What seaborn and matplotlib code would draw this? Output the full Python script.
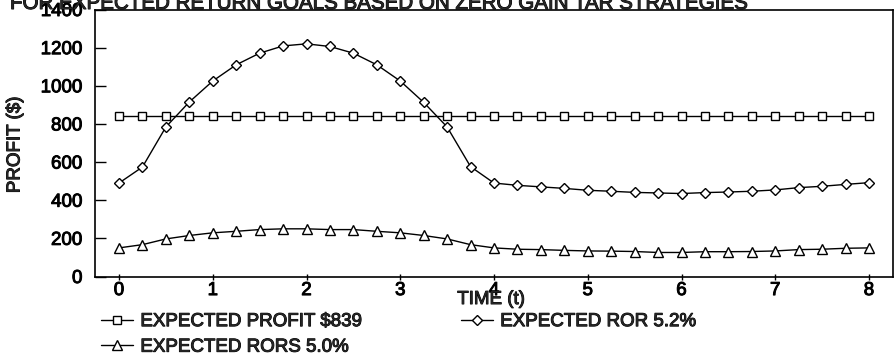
import numpy as np
import pandas as pd
import matplotlib
matplotlib.use("Agg")
import matplotlib.pyplot as plt
import matplotlib.patheffects as pe
import seaborn as sns

# Time grid (quarter-period steps)
time_t = [0, 0.25, 0.5, 0.75, 1, 1.25, 1.5, 1.75, 2, 2.25, 2.5, 2.75, 3, 3.25, 3.5, 3.75,
          4, 4.25, 4.5, 4.75, 5, 5.25, 5.5, 5.75, 6, 6.25, 6.5, 6.75, 7, 7.25, 7.5, 7.75, 8]

# Expected profit strategy: flat at $839
profit_839 = [839] * 33

# Expected ROR 5.2% strategy
ror_52 = [490, 574, 784, 915, 1025, 1110, 1171, 1209, 1220, 1206, 1171, 1110, 1025, 913, 784, 576,
          490, 478, 470, 462, 452, 447, 441, 438, 435, 440, 443, 447, 454, 466, 473, 483, 492]

# Expected RORS 5.0% strategy
rors_50 = [150, 167, 197, 215, 229, 237, 246, 250, 250, 246, 246, 237, 229, 215, 197, 167,
           150, 143, 141, 137, 134, 133, 131, 126, 126, 130, 130, 131, 134, 141, 143, 148, 150]

labels = ["EXPECTED PROFIT $839", "EXPECTED ROR 5.2%", "EXPECTED RORS 5.0%"]
y_ticks = [0, 200, 400, 600, 800, 1000, 1200, 1400]
x_ticks = [0, 1, 2, 3, 4, 5, 6, 7, 8]

sns.set_style("ticks")
plt.rcParams["font.family"] = ["Liberation Sans", "DejaVu Sans"]

# slightly heavier glyphs, like a printed typeface
heavy = [pe.withStroke(linewidth=0.7, foreground="black")]
FS = 13.5

fig = plt.figure(figsize=(8.96, 3.58), dpi=100)
ax = fig.add_axes([95 / 896, 1 - 276.5 / 358, (893 - 95) / 896, (276.5 - 9.5) / 358])

df = pd.DataFrame({"t": time_t, "profit": profit_839, "ror": ror_52, "rors": rors_50})

common = dict(color="black", linewidth=1.0, markerfacecolor="white",
              markeredgecolor="black", markeredgewidth=1.0, ax=ax)
sns.lineplot(data=df, x="t", y="profit", marker="s", markersize=5.5, label=labels[0], **common)
sns.lineplot(data=df, x="t", y="ror", marker="D", markersize=5, label=labels[1], **common)
sns.lineplot(data=df, x="t", y="rors", marker="^", markersize=6.5, label=labels[2], **common)

ax.set_xlim(-0.256, 8.256)
ax.set_ylim(0, 1400)
ax.set_yticks(y_ticks)
ax.set_xticks(x_ticks)
ax.set_yticklabels([str(v) for v in y_ticks], fontsize=FS)
ax.set_xticklabels([str(v) for v in x_ticks], fontsize=FS)
ax.tick_params(axis="y", direction="in", length=8, width=1, pad=9, colors="black")
ax.tick_params(axis="x", direction="inout", length=4, width=1, pad=2, colors="black")
for lbl in ax.get_xticklabels() + ax.get_yticklabels():
    lbl.set_path_effects(heavy)

for side in ["left", "right", "top", "bottom"]:
    ax.spines[side].set_visible(True)
    ax.spines[side].set_color("black")
    ax.spines[side].set_linewidth(1.2)

ax.set_xlabel("")
ax.set_ylabel("")
fig.text(491 / 896, 1 - 299.5 / 358, "TIME (t)", fontsize=FS, ha="center", va="center",
         path_effects=heavy)
fig.text(15 / 896, 1 - 145 / 358, "PROFIT ($)", fontsize=FS, ha="center", va="center",
         rotation=90, path_effects=heavy)

# Chart caption running along the top edge
fig.text(10 / 896, 1 - 9 / 358,
         "FOR EXPECTED RETURN GOALS BASED ON ZERO GAIN TAR STRATEGIES",
         fontsize=14.8, ha="left", va="baseline", path_effects=heavy)

# two-column legend: profit and RORS on the left, ROR on the right
handles, lbls = ax.get_legend_handles_labels()
order = [0, 2, 1]
leg = ax.legend([handles[i] for i in order], [lbls[i] for i in order], ncol=2,
                frameon=False, fontsize=FS,
                loc="upper left", bbox_to_anchor=(101 / 896, 1 - 313 / 358),
                bbox_transform=fig.transFigure, borderaxespad=0, borderpad=0,
                handlelength=1.7, handletextpad=0.4, columnspacing=5.3,
                labelspacing=0.45, numpoints=1)
for txt in leg.get_texts():
    txt.set_path_effects(heavy)

fig.savefig("out.png", dpi=100, facecolor="white")
